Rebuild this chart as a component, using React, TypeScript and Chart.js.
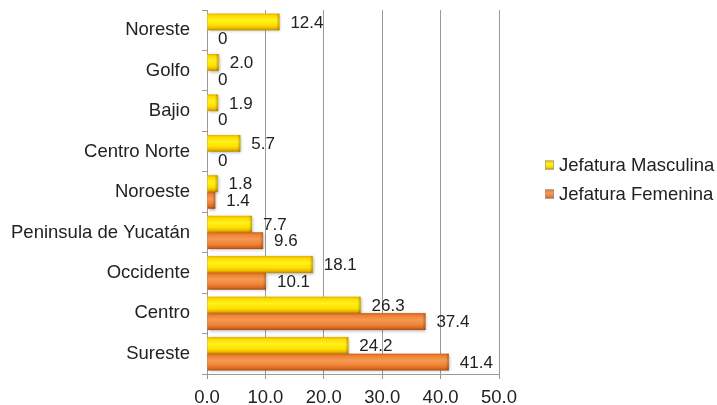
import React, { useEffect, useRef } from "react";
import { Chart, registerables } from "chart.js";

Chart.register(...registerables);

const categories = [
  "Noreste",
  "Golfo",
  "Bajio",
  "Centro Norte",
  "Noroeste",
  "Peninsula de Yucatán",
  "Occidente",
  "Centro",
  "Sureste",
];
const masculina = [12.4, 2.0, 1.9, 5.7, 1.8, 7.7, 18.1, 26.3, 24.2];
const femenina = [0, 0, 0, 0, 1.4, 9.6, 10.1, 37.4, 41.4];
const seriesNames = ["Jefatura Masculina", "Jefatura Femenina"];
const xMin = 0;
const xMax = 50;
const xStep = 10;

const FONT = "'Liberation Sans', Arial, sans-serif";
const TEXT = "#222222";
const GRID = "#9a9a9a";

const baseColors = ["#FFE000", "#EE8336"];
const gradStops: [number, string][][] = [
  [
    [0, "#E2AE00"],
    [0.12, "#FFD800"],
    [0.4, "#FFF21A"],
    [0.7, "#FFE000"],
    [0.88, "#EDB800"],
    [1, "#B98A00"],
  ],
  [
    [0, "#D0601A"],
    [0.12, "#EE8033"],
    [0.4, "#F59A52"],
    [0.7, "#EE8336"],
    [0.88, "#D96A20"],
    [1, "#A94A10"],
  ],
];

function fmt(v: number) {
  return v === 0 ? "0" : v.toFixed(1);
}

const decorPlugin = {
  id: "decor",
  afterDatasetsDraw(chart: any) {
    const ctx: CanvasRenderingContext2D = chart.ctx;
    chart.data.datasets.forEach((ds: any, di: number) => {
      const meta = chart.getDatasetMeta(di);
      meta.data.forEach((el: any) => {
        const { x, y, base, height } = el.getProps(["x", "y", "base", "height"], true);
        const w = x - base;
        if (w <= 0.5) return;
        const top = y - height / 2;
        const g = ctx.createLinearGradient(0, top, 0, top + height);
        gradStops[di].forEach(([o, c]) => g.addColorStop(o, c));
        ctx.save();
        ctx.shadowColor = "rgba(0,0,0,0.35)";
        ctx.shadowBlur = 3;
        ctx.shadowOffsetX = 1;
        ctx.shadowOffsetY = 1;
        ctx.fillStyle = g;
        ctx.fillRect(base, top, w, height);
        ctx.restore();
        const cap = Math.min(3, w);
        const hg = ctx.createLinearGradient(x - cap, 0, x, 0);
        hg.addColorStop(0, "rgba(0,0,0,0)");
        hg.addColorStop(1, "rgba(120,60,0,0.35)");
        ctx.fillStyle = hg;
        ctx.fillRect(x - cap, top, cap, height);
      });
    });
    ctx.save();
    ctx.font = `17px ${FONT}`;
    ctx.fillStyle = TEXT;
    ctx.textAlign = "left";
    ctx.textBaseline = "middle";
    chart.data.datasets.forEach((ds: any, di: number) => {
      const meta = chart.getDatasetMeta(di);
      meta.data.forEach((el: any, i: number) => {
        const { x, y } = el.getProps(["x", "y"], true);
        ctx.fillText(fmt(ds.data[i]), x + 11, y + 1);
      });
    });
    ctx.restore();
  },
  afterDraw(chart: any) {
    const ctx: CanvasRenderingContext2D = chart.ctx;
    const area = chart.chartArea;
    const cy = (area.top + area.bottom) / 2;
    const lx = area.right + 46;
    const rows = [cy - 27, cy + 2];
    ctx.save();
    chart.data.datasets.forEach((ds: any, di: number) => {
      const yc = rows[di];
      const s = 9;
      const g = ctx.createLinearGradient(0, yc - s / 2, 0, yc + s / 2);
      gradStops[di].forEach(([o, c]) => g.addColorStop(o, c));
      ctx.fillStyle = g;
      ctx.fillRect(lx, yc - s / 2, s, s);
      ctx.strokeStyle = "rgba(150,150,150,0.7)";
      ctx.lineWidth = 1;
      ctx.strokeRect(lx + 0.5, yc - s / 2 + 0.5, s - 1, s - 1);
      ctx.font = `18.5px ${FONT}`;
      ctx.fillStyle = TEXT;
      ctx.textAlign = "left";
      ctx.textBaseline = "middle";
      ctx.fillText(ds.label, lx + 14, yc + 1);
    });
    ctx.restore();
  },
};

export default function App() {
  const ref = useRef<HTMLCanvasElement | null>(null);

  useEffect(() => {
    if (!ref.current) return;
    const chart = new Chart(ref.current, {
      type: "bar",
      data: {
        labels: categories,
        datasets: [
          {
            label: seriesNames[0],
            data: masculina,
            backgroundColor: baseColors[0],
            borderWidth: 0,
          },
          {
            label: seriesNames[1],
            data: femenina,
            backgroundColor: baseColors[1],
            borderWidth: 0,
          },
        ],
      },
      options: {
        indexAxis: "y",
        responsive: true,
        maintainAspectRatio: false,
        animation: false,
        layout: { padding: { top: 10, right: 218, left: 0, bottom: 0 } },
        datasets: {
          bar: { categoryPercentage: 0.82, barPercentage: 1 },
        },
        plugins: {
          legend: { display: false },
          tooltip: { enabled: false },
        },
        scales: {
          x: {
            min: xMin,
            max: xMax,
            ticks: {
              stepSize: xStep,
              callback: (v: any) => Number(v).toFixed(1),
              color: TEXT,
              font: { family: FONT, size: 18.5 },
              padding: 8,
            },
            grid: { color: GRID, tickLength: 5, lineWidth: 1 },
            border: { color: GRID },
            afterFit: (scale: any) => {
              scale.height = 31;
            },
          },
          y: {
            ticks: {
              color: TEXT,
              font: { family: FONT, size: 18.5 },
              padding: 12,
            },
            grid: {
              drawOnChartArea: false,
              offset: true,
              tickLength: 5,
              color: GRID,
            },
            border: { color: GRID },
            afterFit: (scale: any) => {
              scale.width = 207;
              scale.paddingTop = 0;
              scale.paddingBottom = 0;
            },
          },
        },
      },
      plugins: [decorPlugin],
    });
    return () => chart.destroy();
  }, []);

  return (
    <div style={{ position: "fixed", left: 0, top: 0, width: 717, height: 405, background: "#fff" }}>
      <canvas ref={ref} />
    </div>
  );
}
